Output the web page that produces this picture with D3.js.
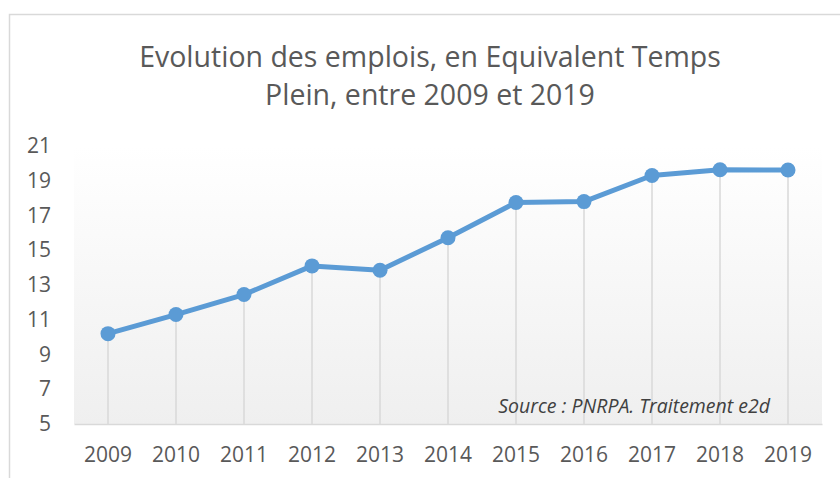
<!DOCTYPE html>
<html>
<head>
    <meta charset="utf-8">
    <title>Evolution des emplois</title>
    <script src="https://d3js.org/d3.v7.min.js"></script>
    <style>
        body { margin: 0; background: #fff; }
        text { font-family: "Open Sans", "DejaVu Sans", sans-serif; }
    </style>
</head>
<body>
    <div id="chart"></div>

    <script>
        // data
        var years = ["2009", "2010", "2011", "2012", "2013", "2014", "2015", "2016", "2017", "2018", "2019"];
        var etp = [10.2, 11.3, 12.45, 14.1, 13.85, 15.72, 17.75, 17.8, 19.3, 19.63, 19.62];
        var yTicks = [5, 7, 9, 11, 13, 15, 17, 19, 21];
        var titleLines = ["Evolution des emplois, en Equivalent Temps", "Plein, entre 2009 et 2019"];
        var sourceText = "Source : PNRPA. Traitement e2d";

        var W = 840, H = 478;
        var margin = { top: 146, right: 18, bottom: 54, left: 74 },
            width = W - margin.left - margin.right,
            height = H - margin.top - margin.bottom;

        var svg = d3.select("#chart")
            .append("svg")
            .attr("width", W)
            .attr("height", H);

        // gradient for the plot area
        var grad = svg.append("defs").append("linearGradient")
            .attr("id", "plotGrad")
            .attr("x1", 0).attr("y1", 0).attr("x2", 0).attr("y2", 1);
        grad.append("stop").attr("offset", "0%").attr("stop-color", "#ffffff");
        grad.append("stop").attr("offset", "100%").attr("stop-color", "#efefef");

        // chart frame (runs off the picture at right and bottom)
        svg.append("rect")
            .attr("x", 9.5).attr("y", 14.5)
            .attr("width", W + 20).attr("height", H + 20)
            .attr("fill", "#fff")
            .attr("stroke", "#d9d9d9")
            .attr("stroke-width", 1.5);

        // title
        svg.append("g")
            .selectAll("text")
            .data(titleLines)
            .join("text")
            .attr("x", 430)
            .attr("y", function (d, i) { return 67 + i * 38; })
            .attr("text-anchor", "middle")
            .attr("fill", "#595959")
            .style("font-size", "28.5px")
            .text(function (d) { return d; });

        var g = svg.append("g")
            .attr("transform", "translate(" + margin.left + "," + margin.top + ")");

        var x = d3.scaleBand()
            .domain(years)
            .range([0, width]);

        var y = d3.scaleLinear()
            .domain([5, 21])
            .range([height, 0]);

        g.append("rect")
            .attr("width", width)
            .attr("height", height)
            .attr("fill", "url(#plotGrad)");

        var cx = function (d, i) { return x(years[i]) + x.bandwidth() / 2; };

        // drop lines
        g.selectAll(".drop")
            .data(etp)
            .join("line")
            .attr("class", "drop")
            .attr("x1", cx).attr("x2", cx)
            .attr("y1", function (d) { return y(d); })
            .attr("y2", height)
            .attr("stroke", "#d9d9d9")
            .attr("stroke-width", 1.5);

        // x axis
        var xAxis = g.append("g")
            .attr("transform", "translate(0," + height + ")")
            .call(d3.axisBottom(x).tickSize(0).tickPadding(23));
        xAxis.select(".domain").attr("stroke", "#d9d9d9").attr("stroke-width", 1.5);
        xAxis.selectAll("text")
            .attr("fill", "#595959")
            .style("font-size", "21px");

        // y axis (labels only)
        var yAxis = g.append("g")
            .call(d3.axisLeft(y).tickValues(yTicks).tickSize(0).tickPadding(23));
        yAxis.select(".domain").remove();
        yAxis.selectAll("text")
            .attr("fill", "#595959")
            .style("font-size", "21px");

        // source note
        g.append("text")
            .attr("x", x("2019") + x.bandwidth() / 2 - 18)
            .attr("y", height - 11)
            .attr("text-anchor", "end")
            .attr("fill", "#404040")
            .style("font-size", "19.5px")
            .style("font-style", "italic")
            .text(sourceText);

        // line
        g.append("path")
            .datum(etp)
            .attr("fill", "none")
            .attr("stroke", "#5b9bd5")
            .attr("stroke-width", 5)
            .attr("stroke-linejoin", "round")
            .attr("d", d3.line()
                .x(cx)
                .y(function (d) { return y(d); }));

        g.selectAll(".dot")
            .data(etp)
            .join("circle")
            .attr("class", "dot")
            .attr("cx", cx)
            .attr("cy", function (d) { return y(d); })
            .attr("r", 7.5)
            .attr("fill", "#5b9bd5");
    </script>
</body>
</html>
